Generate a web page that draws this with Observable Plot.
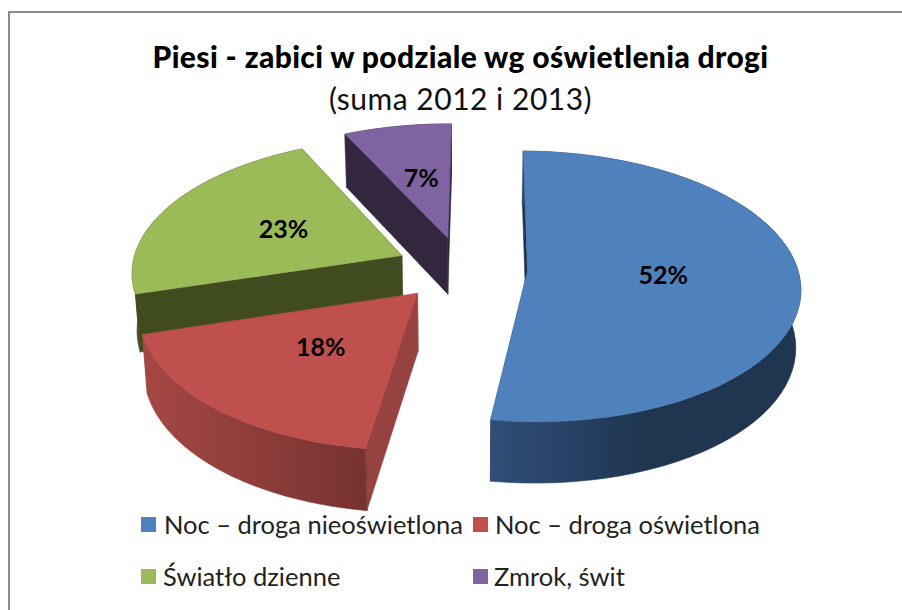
<!DOCTYPE html>
<html lang="pl">
<head>
<meta charset="utf-8">
<script src="https://cdn.jsdelivr.net/npm/d3@7"></script>
<script src="https://cdn.jsdelivr.net/npm/@observablehq/plot@0.6"></script>
<style>
html,body{margin:0;padding:0;background:#fff;}
#page{position:relative;width:902px;height:610px;overflow:hidden;font-family:Lato,"Open Sans",sans-serif;color:#000;}
#page svg{position:absolute;left:0;top:0;}
.frame{position:absolute;left:8px;top:11px;right:0;bottom:-5px;border-left:2.5px solid #8c8c8c;border-top:2.5px solid #8c8c8c;}
.t{position:absolute;white-space:nowrap;line-height:1;}
.title{left:0;width:921px;text-align:center;}
.sw{position:absolute;width:15px;height:15px;}
.leg{position:absolute;white-space:nowrap;line-height:1;font-size:25.5px;color:#222;}
</style>
</head>
<body>
<div id="page"></div>
<script>
// Chart content
const titleText = "Piesi - zabici w podziale wg oświetlenia drogi";
const subtitleText = "(suma 2012 i 2013)";
const categories = ["Noc – droga nieoświetlona", "Noc – droga oświetlona", "Światło dzienne", "Zmrok, świt"];
const shares = [52.2, 18.0, 22.5, 7.3];
const topColors = ["#4f81bd", "#c0504d", "#9bbb59", "#8064a2"];
const radialWallColors = ["#1f3550", "#964240", "#414b20", "#32273f"];
const rimStartColors = ["#2f4f77", "#a54844", "#414b20", "#32273f"];
const rimEndColors = ["#1f3550", "#763230", "#414b20", "#32273f"];

// Projection of the exploded 3D pie
const W = 902, H = 610;
const cx = 461, cy = 268, A = 270, B = 133, k = 0.113, explode = 0.245;
const project = (u, v) => {
  const d = 1 - k * v;
  return [cx + A * u / d, cy + B * v / d];
};
const drop = ([x, y]) => [cx + (x - cx) * 0.985, y * 1.027 + 50];

const arcs = d3.pie().sort(null).startAngle(0.6 * Math.PI / 180).endAngle((360.6) * Math.PI / 180)(shares);

const slices = arcs.map((a, i) => {
  const mid = (a.startAngle + a.endAngle) / 2;
  const ou = explode * Math.sin(mid), ov = -explode * Math.cos(mid);
  const at = (theta, r = 1) => project(ou + r * Math.sin(theta), ov - r * Math.cos(theta));
  const steps = d3.range(0, 61).map(j => a.startAngle + (a.endAngle - a.startAngle) * j / 60);
  const rim = steps.map(t => at(t));
  const apex = at(0, 0);
  const startPt = rim[0], endPt = rim[rim.length - 1];
  return {
    i, apex, rim,
    top: [apex, ...rim],
    outerWall: [...rim, ...rim.slice().reverse().map(drop)],
    wallA: [apex, startPt, drop(startPt), drop(apex)],
    wallB: [apex, endPt, drop(endPt), drop(apex)],
    label: at(mid, 0.5)
  };
});

const poly = (pts, fill) => Plot.line(pts, {x: d => d[0], y: d => d[1], fill, stroke: fill, strokeWidth: 0.6, curve: "linear-closed"});

const gradientDefs = () => {
  const ns = "http://www.w3.org/2000/svg";
  const defs = document.createElementNS(ns, "defs");
  categories.forEach((_, i) => {
    const g = document.createElementNS(ns, "linearGradient");
    g.setAttribute("id", "rim" + i);
    g.setAttribute("x1", "0"); g.setAttribute("x2", "1"); g.setAttribute("y1", "0"); g.setAttribute("y2", "0");
    [[0, rimStartColors[i]], [i === 0 ? 0.5 : 1, rimEndColors[i]], [1, rimEndColors[i]]].forEach(([o, c]) => {
      const s = document.createElementNS(ns, "stop");
      s.setAttribute("offset", o); s.setAttribute("stop-color", c);
      g.appendChild(s);
    });
    defs.appendChild(g);
  });
  return defs;
};

const paintOrder = [3, 2, 1, 0];
const marks = [gradientDefs];
for (const i of paintOrder) {
  const s = slices[i];
  marks.push(poly(s.wallA, radialWallColors[i]));
  marks.push(poly(s.wallB, radialWallColors[i]));
  marks.push(poly(s.outerWall, `url(#rim${i})`));
  marks.push(poly(s.top, topColors[i]));
}
marks.push(Plot.text(slices, {
  x: d => d.label[0], y: d => d.label[1],
  text: d => Math.round(shares[d.i]) + "%",
  fill: "#000", fontFamily: "Lato", fontWeight: 700, fontSize: 25
}));

const chart = Plot.plot({
  width: W, height: H, margin: 0,
  x: {domain: [0, W], range: [0, W], axis: null},
  y: {domain: [0, H], range: [0, H], axis: null},
  style: {background: "transparent", overflow: "visible"},
  marks
});

const page = document.getElementById("page");
page.appendChild(chart);

const add = (cls, text, css) => {
  const e = document.createElement("div");
  e.className = cls;
  if (text) e.textContent = text;
  Object.assign(e.style, css);
  page.appendChild(e);
  return e;
};
add("frame", "", {});
add("t title", titleText, {top: "41px", fontSize: "30px", fontWeight: 900, letterSpacing: "0.37px"});
add("t title", subtitleText, {top: "83px", fontSize: "30px", fontWeight: 400, color: "#111", letterSpacing: "0.5px"});

const legendSwatch = [[141, 517], [473, 517], [141, 569], [473, 569]];
const legendText = [[164, 512], [495, 512], [163, 564], [494, 564]];
categories.forEach((c, i) => {
  add("sw", "", {left: legendSwatch[i][0] + "px", top: legendSwatch[i][1] + "px", background: topColors[i]});
  add("leg", c, {left: legendText[i][0] + "px", top: legendText[i][1] + "px"});
});
</script>
</body>
</html>
